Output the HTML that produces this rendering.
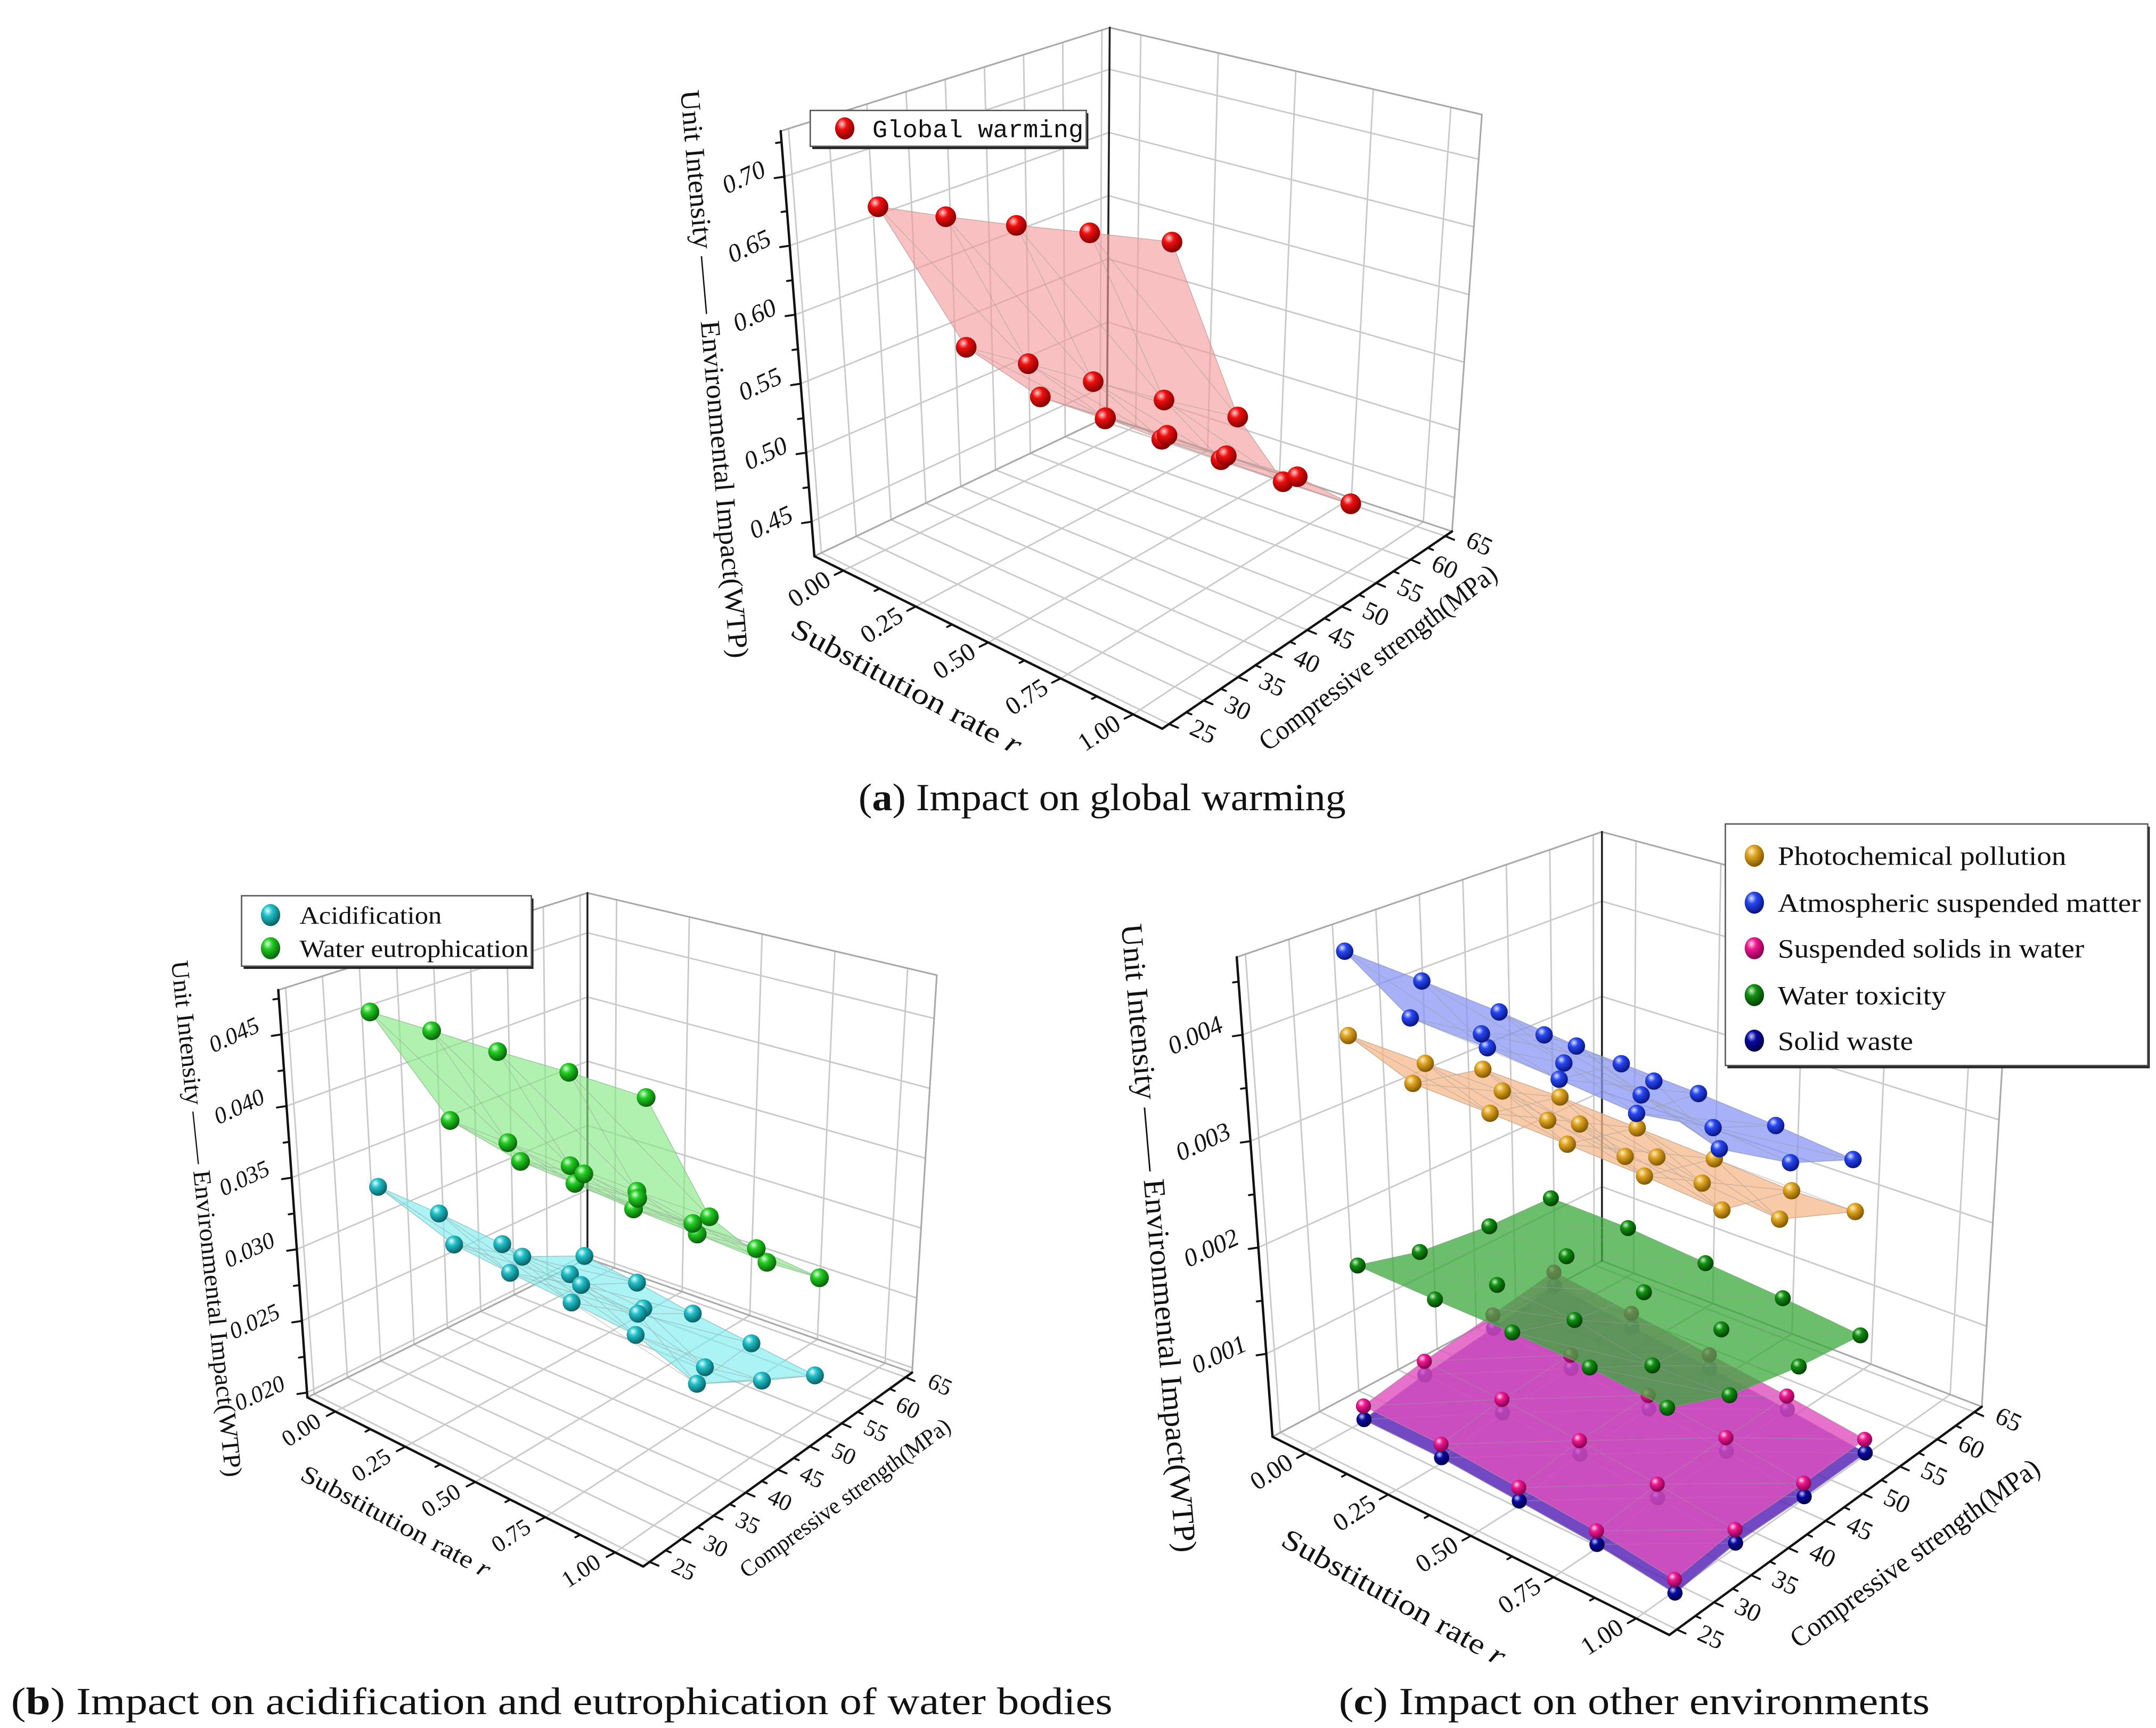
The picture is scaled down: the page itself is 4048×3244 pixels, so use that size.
<!DOCTYPE html>
<html><head><meta charset="utf-8"><title>Environmental impact 3D charts</title>
<style>
html,body{margin:0;padding:0;background:#fff;}
svg{display:block;}
text{font-family:"Liberation Serif","DejaVu Serif",serif;fill:#111;}
</style></head>
<body>
<svg id="chart" xmlns="http://www.w3.org/2000/svg" width="4048" height="3244" viewBox="0 0 1562 1252" preserveAspectRatio="none">
<defs id="defs"></defs>
<rect x="0" y="0" width="1562" height="1252" fill="#fff"/>
<g id="root"></g>
<text x="622" y="587" font-size="28" textLength="353" lengthAdjust="spacingAndGlyphs">(<tspan font-weight="bold">a</tspan>) Impact on global warming</text>
<text x="8" y="1242" font-size="28" textLength="798" lengthAdjust="spacingAndGlyphs">(<tspan font-weight="bold">b</tspan>) Impact on acidification and eutrophication of water bodies</text>
<text x="970" y="1242" font-size="28" textLength="428" lengthAdjust="spacingAndGlyphs">(<tspan font-weight="bold">c</tspan>) Impact on other environments</text>
</svg>
<script>
// ---------- axis tick data ----------
const xTickValues = [0, 0.25, 0.5, 0.75, 1];
const xTickLabels = ['0.00', '0.25', '0.50', '0.75', '1.00'];
const sTickValues = [25, 30, 35, 40, 45, 50, 55, 60, 65];
const sTickLabels = ['25', '30', '35', '40', '45', '50', '55', '60', '65'];
const zTickValuesA = [0.45, 0.50, 0.55, 0.60, 0.65, 0.70];
const zTickLabelsA = ['0.45', '0.50', '0.55', '0.60', '0.65', '0.70'];
const zTickValuesB = [0.020, 0.025, 0.030, 0.035, 0.040, 0.045];
const zTickLabelsB = ['0.020', '0.025', '0.030', '0.035', '0.040', '0.045'];
const zTickValuesC = [0.001, 0.002, 0.003, 0.004];
const zTickLabelsC = ['0.001', '0.002', '0.003', '0.004'];

// ---------- (a) global warming: rows = mixes, columns = strength ----------
const gwStrength = [25, 35, 45, 55, 65];
const gwRate = [
  [0.15, 0.13, 0.12, 0.12, 0.15],
  [0.44, 0.40, 0.37, 0.36, 0.36],
  [0.69, 0.66, 0.60, 0.55, 0.51],
  [0.91, 0.87, 0.82, 0.81, 0.74]];
const gwValue = [
  [0.708, 0.667, 0.628, 0.591, 0.556],
  [0.637, 0.589, 0.541, 0.495, 0.451],
  [0.628, 0.578, 0.524, 0.472, 0.420],
  [0.636, 0.588, 0.536, 0.488, 0.429]];

// ---------- (b) acidification / eutrophication ----------
const bStrength = [25, 35, 45, 55, 65];
const eutRate = [
  [0.165, 0.134, 0.118, 0.121, 0.146],
  [0.445, 0.399, 0.369, 0.356, 0.363],
  [0.696, 0.638, 0.595, 0.570, 0.567],
  [0.924, 0.864, 0.808, 0.783, 0.756]];
const eutValue = [
  [0.0497, 0.0451, 0.0405, 0.0361, 0.0316],
  [0.0448, 0.0398, 0.0349, 0.0300, 0.0253],
  [0.0444, 0.0393, 0.0341, 0.0291, 0.0241],
  [0.0458, 0.0405, 0.0352, 0.0302, 0.0249]];
const acidRate = [
  [0.177, 0.142, 0.116, 0.105, 0.115],
  [0.447, 0.394, 0.361, 0.337, 0.332],
  [0.693, 0.650, 0.600, 0.554, 0.537],
  [0.918, 0.853, 0.799, 0.756, 0.730]];
const acidValue = [
  [0.0374, 0.0322, 0.0268, 0.0216, 0.0163],
  [0.0360, 0.0305, 0.0251, 0.0196, 0.0143],
  [0.0376, 0.0322, 0.0267, 0.0183, 0.0154],
  [0.0399, 0.0344, 0.0287, 0.0232, 0.0177]];

// ---------- (c) other environments: rows = strength, columns = rate ----------
const cRate = [0, 0.25, 0.5, 0.75, 1];
const cStrength = [28, 36, 45, 53];
const photoValue = [
  [0.00405, 0.00418, 0.00431, 0.00439, 0.00447],
  [0.00322, 0.00333, 0.00343, 0.00352, 0.00359],
  [0.00294, 0.00307, 0.00317, 0.00327, 0.00336],
  [0.00208, 0.00213, 0.00227, 0.00232, 0.00279]];
const atmoValue = [
  [0.00486, 0.00497, 0.00507, 0.00514, 0.00520],
  [0.00385, 0.00396, 0.00421, 0.00430, 0.00418],
  [0.00328, 0.00324, 0.00331, 0.00357, 0.00363],
  [0.00290, 0.00302, 0.00313, 0.00322, 0.00329]];
const ssValue = [
  [0.00049, 0.00052, 0.00050, 0.00048, 0.00041],
  [0.00055, 0.00058, 0.00058, 0.00056, 0.00052],
  [0.00058, 0.00059, 0.00060, 0.00059, 0.00055],
  [0.00062, 0.00062, 0.00062, 0.00062, 0.00060]];
const toxValue = [
  [0.00184, 0.00191, 0.00199, 0.00205, 0.00206],
  [0.00160, 0.00168, 0.00174, 0.00170, 0.00181],
  [0.00143, 0.00154, 0.00159, 0.00163, 0.00167],
  [0.00133, 0.00144, 0.00150, 0.00156, 0.00160]];
const swValue = [
  [0.00036, 0.00039, 0.00037, 0.00035, 0.00028],
  [0.00042, 0.00045, 0.00045, 0.00043, 0.00039],
  [0.00045, 0.00046, 0.00047, 0.00046, 0.00042],
  [0.00049, 0.00049, 0.00049, 0.00049, 0.00047]];

// ---------- helpers ----------
const NS = 'http://www.w3.org/2000/svg';
function mk(tag, parent, attrs) {
  const e = document.createElementNS(NS, tag);
  for (const k in attrs) e.setAttribute(k, attrs[k]);
  parent.appendChild(e);
  return e;
}
const root = document.getElementById('root');
const defs = document.getElementById('defs');

function sphereGrad(id, light, base, dark) {
  const g = mk('radialGradient', defs, {id: id, cx: '0.38', cy: '0.33', r: '0.7', fx: '0.35', fy: '0.3'});
  mk('stop', g, {offset: '0', 'stop-color': light});
  mk('stop', g, {offset: '0.35', 'stop-color': base});
  mk('stop', g, {offset: '1', 'stop-color': dark});
}
sphereGrad('g-red', '#ffd0d0', '#ee1010', '#7a0000');
sphereGrad('g-green', '#d8ffd8', '#22cc22', '#0a5a0a');
sphereGrad('g-cyan', '#e0ffff', '#22c0c8', '#0a5a60');
sphereGrad('g-orange', '#fff0c0', '#e0a624', '#7a5200');
sphereGrad('g-blue', '#dde4ff', '#2848f0', '#08127a');
sphereGrad('g-pink', '#ffd8ee', '#f01890', '#7a004a');
sphereGrad('g-dgreen', '#c8f0c8', '#129012', '#033a03');
sphereGrad('g-navy', '#c8ccff', '#0a0aa0', '#000040');

function lerp(a, b, t) { return [a[0] + (b[0] - a[0]) * t, a[1] + (b[1] - a[1]) * t]; }
function makeProj(cfg) {
  return function (x, s, z) {
    const u = (x - cfg.xr[0]) / (cfg.xr[1] - cfg.xr[0]);
    const v = (s - cfg.sr[0]) / (cfg.sr[1] - cfg.sr[0]);
    const w = (z - cfg.zr[0]) / (cfg.zr[1] - cfg.zr[0]);
    const C = cfg.C;
    const bil = (A, B, D, E) => lerp(lerp(A, B, u), lerp(E, D, u), v);
    const b = bil(C.B00, C.B10, C.B11, C.B01);
    const t = bil(C.T00, C.T10, C.T11, C.T01);
    return lerp(b, t, w);
  };
}
function makeDataProj(cfg) {
  if (!cfg.aff) return makeProj(cfg);
  const A = cfg.aff;
  return function (x, s, z) {
    const fx = (x - cfg.xr[0]) / (cfg.xr[1] - cfg.xr[0]);
    const fs = (s - A.s0) / (A.s1 - A.s0);
    const fz = (z - cfg.zr[0]) / (cfg.zr[1] - cfg.zr[0]);
    return [A.O[0] + fx * A.ex[0] + fs * A.es[0] + fz * A.ez[0], A.O[1] + fx * A.ex[1] + fs * A.es[1] + fz * A.ez[1]];
  };
}
function line(g, p, q, stroke, sw) {
  return mk('line', g, {x1: p[0].toFixed(2), y1: p[1].toFixed(2), x2: q[0].toFixed(2), y2: q[1].toFixed(2), stroke: stroke, 'stroke-width': sw, 'stroke-linecap': 'round'});
}
function unit(p, q) { const dx = q[0] - p[0], dy = q[1] - p[1]; const l = Math.hypot(dx, dy) || 1; return [dx / l, dy / l]; }

function drawAxes(cfg) {
  const P = makeProj(cfg);
  const [x0, x1] = cfg.xr, [s0, s1] = cfg.sr, [z0, z1] = cfg.zr;
  const g = mk('g', root, {});
  
  
  const grid = mk('g', g, {});
  
  
  const gc = '#c9c9c9';
  sTickValues.forEach(s => { line(grid, P(x0, s, z0), P(x0, s, z1), gc, 1.1); line(grid, P(x0, s, z0), P(x1, s, z0), gc, 1.1); });
  cfg.zTicks.forEach(z => { line(grid, P(x0, s0, z), P(x0, s1, z), gc, 1.1); line(grid, P(x0, s1, z), P(x1, s1, z), gc, 1.1); });
  xTickValues.forEach(x => { line(grid, P(x, s1, z0), P(x, s1, z1), gc, 1.1); line(grid, P(x, s0, z0), P(x, s1, z0), gc, 1.1); });
  const C = cfg.C;
  const box = mk('g', g, {});
  
  
  line(box, C.T00, C.T01, '#a8a8a8', 1.2);
  line(box, C.T01, C.T11, '#a8a8a8', 1.2);
  line(box, C.B11, C.T11, '#a8a8a8', 1.2);
  line(box, C.B00, C.B01, '#a8a8a8', 1.2);
  line(box, C.B01, C.B11, '#a8a8a8', 1.2);
  line(box, C.B01, C.T01, '#222', 1.4);
  const xa = line(box, C.B00, C.B10, '#111', 1.7);
  
  
  const sa = line(box, C.B10, C.B11, '#111', 1.7);
  
  
  const za = line(box, C.B00, C.T00, '#111', 1.7);
  
  
  const tk = mk('g', g, {});
  
  
  const xDir = unit(P(0, s0, z0), P(0, s0 - 4, z0));
  for (let x = 0; x <= 1.0001; x += 0.125) {
    const p = P(x, s0, z0); const L = (Math.abs(x * 4 - Math.round(x * 4)) < 1e-6) ? 7 : 4;
    line(tk, p, [p[0] + xDir[0] * L, p[1] + xDir[1] * L], '#111', 1.4);
  }
  const sDir = unit(P(x1, 45, z0), P(x1 + 0.2, 45, z0));
  for (let s = 25; s <= 65; s += 2.5) {
    const p = P(x1, s, z0); const L = (s % 5 === 0) ? 7 : 4;
    line(tk, p, [p[0] + sDir[0] * L, p[1] + sDir[1] * L], '#111', 1.4);
  }
  const zs = cfg.zTicks;
  const zstep = zs[1] - zs[0];
  for (let i = 0; i < zs.length; i++) {
    [zs[i], zs[i] + zstep / 2].forEach((z, k) => {
      if (z > z1) return;
      const p = P(x0, s0, z); const L = k === 0 ? 7 : 4;
      line(tk, p, [p[0] - L, p[1] + L * 0.15], '#111', 1.4);
    });
  }
  const lab = mk('g', g, {'font-size': cfg.fs});
  
  
  xTickValues.forEach((x, i) => {
    const p = P(x, s0, z0); const cx = p[0] - 25, cy = p[1] + 13;
    const t = mk('text', lab, {x: cx.toFixed(1), y: cy.toFixed(1), 'text-anchor': 'middle', dy: '0.35em', transform: 'rotate(-33 ' + cx.toFixed(1) + ' ' + cy.toFixed(1) + ')'});
    t.textContent = xTickLabels[i];
    
    
  });
  sTickValues.forEach((s, i) => {
    const p = P(x1, s, z0); const cx = p[0] + 25, cy = p[1] + 5;
    const t = mk('text', lab, {x: cx.toFixed(1), y: cy.toFixed(1), 'text-anchor': 'middle', dy: '0.35em', transform: 'rotate(25 ' + cx.toFixed(1) + ' ' + cy.toFixed(1) + ')'});
    t.textContent = sTickLabels[i];
    
    
  });
  cfg.zTicks.forEach((z, i) => {
    const p = P(x0, s0, z); const txt = cfg.zLabels[i];
    const cx = p[0] - (10 + 4.9 * txt.length), cy = p[1];
    const t = mk('text', lab, {x: cx.toFixed(1), y: cy.toFixed(1), 'text-anchor': 'middle', dy: '0.35em', 'font-style': 'italic', transform: 'rotate(-25 ' + cx.toFixed(1) + ' ' + cy.toFixed(1) + ')'});
    t.textContent = txt;
    
    
  });
  const T = cfg.titles;
  const titles = [['Substitution rate ', T.sub, 'x-axis-title', true], ['Compressive strength(MPa)', T.comp, 's-axis-title', false], ['Unit Intensity —— Environmental Impact(WTP)', T.z, 'z-axis-title', false]];
  titles.forEach(tt => {
    const [txt, d, nm, rItalic] = tt;
    const t = mk('text', g, {x: d[0], y: d[1], 'text-anchor': 'middle', dy: '0.35em', 'font-size': d[4], textLength: d[3], lengthAdjust: 'spacingAndGlyphs', transform: 'rotate(' + d[2] + ' ' + d[0] + ' ' + d[1] + ')'});
    t.textContent = txt;
    if (rItalic) { const ts = mk('tspan', t, {'font-style': 'italic'}); ts.textContent = 'r'; }
    
    
  });
  return makeDataProj(cfg);
}

function drawSeries(P, name, pts, fill, op, grad, r) {
  const g = mk('g', root, {});
  
  
  const surf = mk('g', g, {opacity: op});
  
  
  for (let i = 0; i < pts.length - 1; i++) {
    for (let j = 0; j < pts[i].length - 1; j++) {
      const q = [pts[i][j], pts[i][j + 1], pts[i + 1][j + 1], pts[i + 1][j]];
      const poly = mk('polygon', surf, {points: q.map(p => p[0].toFixed(1) + ',' + p[1].toFixed(1)).join(' '), fill: fill, stroke: fill, 'stroke-width': 0.8, 'stroke-linejoin': 'round'});
      
      
    }
  }
  const mesh = mk('g', g, {opacity: 0.55});
  
  
  for (let i = 0; i < pts.length; i++) for (let j = 0; j < pts[i].length; j++) {
    if (j + 1 < pts[i].length) line(mesh, pts[i][j], pts[i][j + 1], '#9a9a9a', 0.5);
    if (i + 1 < pts.length) line(mesh, pts[i][j], pts[i + 1][j], '#9a9a9a', 0.5);
    if (i + 1 < pts.length && j + 1 < pts[i].length) line(mesh, pts[i][j], pts[i + 1][j + 1], '#9a9a9a', 0.5);
  }
  const dots = mk('g', g, {});
  
  
  for (let i = 0; i < pts.length; i++) for (let j = 0; j < pts[i].length; j++) {
    const c = mk('circle', dots, {cx: pts[i][j][0].toFixed(1), cy: pts[i][j][1].toFixed(1), r: r, fill: 'url(#' + grad + ')'});
    
    
  }
}

function legend(id, box, entries, fs, mono) {
  const g = mk('g', root, {});
  
  
  mk('rect', g, {x: box[0] + 1.5, y: box[1] + 2, width: box[2], height: box[3], fill: '#222'});
  mk('rect', g, {x: box[0], y: box[1], width: box[2], height: box[3], fill: '#fff', stroke: '#555', 'stroke-width': 1});
  entries.forEach(e => {
    const it = mk('g', g, {});
    
    
    mk('ellipse', it, {cx: e[0], cy: e[1], rx: 7, ry: 8, fill: 'url(#' + e[2] + ')'});
    const t = mk('text', it, {x: e[3], y: e[1], dy: '0.35em', 'font-size': fs, textLength: e[5], lengthAdjust: 'spacingAndGlyphs'});
    if (mono) t.setAttribute('style', 'font-family:"Liberation Mono",monospace');
    t.textContent = e[4];
  });
}

// ---------- plot (a) ----------
const cfgA = {id: 'a', xr: [-0.1, 1.1], sr: [24, 66], zr: [0.425, 0.733], zTicks: zTickValuesA, zLabels: zTickLabelsA, fs: 18.5,
  C: {B00: [590, 403], B10: [842, 528], B11: [1052, 385], B01: [802, 302], T00: [565.6, 95], T10: [842, 200], T11: [1073.6, 83], T01: [804, 20]},
  aff: {O: [590, 403], ex: [256.7, 130], es: [209, -125], ez: [-8, -305], s0: 25, s1: 65},
  titles: {sub: [657, 497, 28, 186, 21], comp: [998, 476, -37, 210, 20], z: [518, 271, 85, 413, 20]}};
const PA = drawAxes(cfgA);
drawSeries(PA, 'global-warming', gwRate.map((row, i) => row.map((x, j) => PA(x, gwStrength[j], gwValue[i][j]))), '#f59a9a', 0.62, 'g-red', 7.5);
legend('a', [587, 80, 200, 26], [[612, 93, 'g-red', 632, 'Global warming', 153]], 18, true);

// ---------- plot (b) ----------
const cfgB = {id: 'b', xr: [-0.1, 1.1], sr: [24, 66], zr: [0.01966, 0.0481], zTicks: zTickValuesB, zLabels: zTickLabelsB, fs: 17,
  C: {B00: [222.7, 1012.5], B10: [466, 1135], B11: [660.8, 994.5], B01: [425.6, 911.7], T00: [201.6, 717.3], T10: [466, 822], T11: [678.7, 706.5], T01: [425.6, 647]},
  aff: {O: [222.7, 1012.5], ex: [243.3, 122.5], es: [198.9, -120.7], ez: [-8, -290], s0: 25, s1: 65},
  titles: {sub: [287, 1102, 28, 153, 18], comp: [612, 1085, -36, 184, 17], z: [150, 883, 84, 376, 18]}};
const PB = drawAxes(cfgB);
drawSeries(PB, 'acidification', acidRate.map((row, i) => row.map((x, j) => PB(x, bStrength[j], acidValue[i][j]))), '#7feef0', 0.65, 'g-cyan', 6.5);
drawSeries(PB, 'water-eutrophication', eutRate.map((row, i) => row.map((x, j) => PB(x, bStrength[j], eutValue[i][j]))), '#86ea86', 0.65, 'g-green', 6.8);
legend('b', [175, 649, 210, 51], [[196, 663, 'g-cyan', 217, 'Acidification', 103], [196, 687, 'g-green', 217, 'Water eutrophication', 166]], 18, false);

// ---------- plot (c) ----------
const cfgC = {id: 'c', xr: [-0.1, 1.1], sr: [24, 66], zr: [0.00022, 0.00473], zTicks: zTickValuesC, zLabels: zTickLabelsC, fs: 18.5,
  C: {B00: [921.9, 1041], B10: [1209.4, 1184.6], B11: [1435.8, 1019.2], B01: [1160.6, 913.6], T00: [896, 693.5], T10: [1209, 815], T11: [1456, 682], T01: [1160.6, 602.7]},
  aff: {O: [944, 1041], ex: [270, 143.6], es: [232.5, -146.4], ez: [-14, -340], s0: 24, s1: 66},
  titles: {sub: [1010, 1157, 29, 182, 21], comp: [1387, 1125, -36, 218, 20], z: [840, 897, 85, 457, 22]}};
const PC = drawAxes(cfgC);
const gridC = vals => cStrength.map((s, i) => cRate.map((x, j) => PC(x, s, vals[i][j])));
drawSeries(PC, 'solid-waste', gridC(swValue), '#5a2ab8', 0.85, 'g-navy', 5.5);
drawSeries(PC, 'suspended-solids', gridC(ssValue), '#e050c0', 0.8, 'g-pink', 5.5);
drawSeries(PC, 'water-toxicity', gridC(toxValue), '#3aaa3a', 0.75, 'g-dgreen', 5.8);
drawSeries(PC, 'photochemical-pollution', gridC(photoValue), '#f6b98a', 0.75, 'g-orange', 6.3);
drawSeries(PC, 'atmospheric-suspended-matter', gridC(atmoValue), '#8494f6', 0.72, 'g-blue', 6.3);
legend('c', [1250, 597, 306, 175], [
  [1271, 620, 'g-orange', 1288, 'Photochemical pollution', 209],
  [1271, 654, 'g-blue', 1288, 'Atmospheric suspended matter', 263],
  [1271, 687, 'g-pink', 1288, 'Suspended solids in water', 222],
  [1271, 721, 'g-dgreen', 1288, 'Water toxicity', 122],
  [1271, 754, 'g-navy', 1288, 'Solid waste', 98]], 19, false);
</script>
</body></html>
